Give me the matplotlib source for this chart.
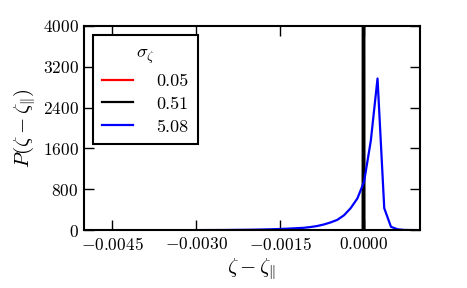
import matplotlib
matplotlib.use("Agg")
import matplotlib.pyplot as plt
from matplotlib.ticker import FormatStrFormatter

plt.rcParams['font.family'] = 'serif'
plt.rcParams['font.serif'] = ['cmr10']
plt.rcParams['mathtext.fontset'] = 'cm'
plt.rcParams['axes.formatter.use_mathtext'] = True

# distribution of zeta - zeta_par for each sigma_zeta
labels = ["0.05", "0.51", "5.08"]
colors = ["red", "black", "blue"]

x_005 = [-0.000010, -0.000006, -0.000002]
y_005 = [0, 400000, 0]

x_051 = [-0.000022, -0.000006, 0.000010]
y_051 = [0, 40000, 0]

x_508 = [-0.0045, -0.0030, -0.0025, -0.0020, -0.0017, -0.0015, -0.0013,
         -0.001076, -0.000956, -0.000836, -0.000716, -0.000596, -0.000476,
         -0.000356, -0.000236, -0.000116, 0.000004, 0.000124, 0.000244,
         0.000364, 0.000484, 0.000604, 0.000724, 0.000844, 0.000964]
y_508 = [0, 0, 2, 8, 15, 22, 32,
         45, 60, 80, 110, 150, 200,
         290, 430, 620, 950, 1750, 2970,
         430, 65, 15, 3, 1, 0]

fig = plt.figure(figsize=(4.67, 2.88), dpi=100)
ax = fig.add_axes([0.180, 0.201, 0.719, 0.709])

for xs, ys, c, lab in zip([x_005, x_051, x_508], [y_005, y_051, y_508], colors, labels):
    ax.plot(xs, ys, color=c, lw=1.6, label=lab)

ax.set_xlim(-0.005, 0.001)
ax.set_ylim(0, 4000)
ax.set_xticks([-0.0045, -0.0030, -0.0015, 0.0])
ax.set_yticks([0, 800, 1600, 2400, 3200, 4000])
ax.xaxis.set_major_formatter(FormatStrFormatter(r'$%.4f$'))
ax.yaxis.set_major_formatter(FormatStrFormatter(r'$%d$'))
ax.tick_params(direction='in', top=True, right=True, length=7, width=1, labelsize=12.5, pad=4)
for s in ax.spines.values():
    s.set_linewidth(1.5)

ax.set_xlabel(r'$\zeta - \zeta_{\|}$', fontsize=15, labelpad=3)
ax.set_ylabel(r'$P(\zeta - \zeta_{\|})$', fontsize=15, labelpad=3)

leg = ax.legend(title=r'$\sigma_\zeta$', loc='upper left', fontsize=13,
                fancybox=False, framealpha=1, edgecolor='black',
                borderaxespad=0.5, borderpad=0.5, handlelength=1.7,
                handletextpad=1.3, labelspacing=0.4)
leg.get_title().set_fontsize(13.5)
leg.get_frame().set_linewidth(1.5)

fig.savefig("out.png", dpi=100)
